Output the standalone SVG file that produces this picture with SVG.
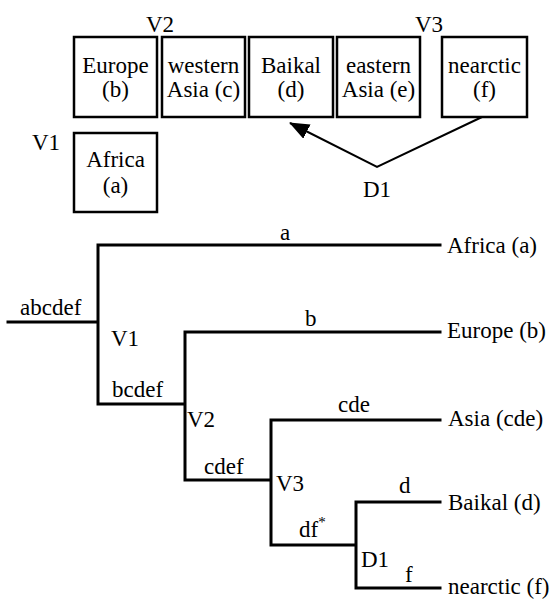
<svg xmlns="http://www.w3.org/2000/svg" width="554" height="600" viewBox="0 0 554 600">
<style>
text{font-family:"Liberation Serif","Times New Roman",serif;font-size:23px;fill:#000}
.c{text-anchor:middle}
.box{fill:#fff;stroke:#000;stroke-width:2.5}
.br{fill:none;stroke:#000;stroke-width:3;stroke-linecap:square}
.ar{fill:none;stroke:#000;stroke-width:2}
</style>
<defs>
<marker id="ah2" viewBox="0 0 20 16" refX="19" refY="8" markerWidth="20" markerHeight="16" orient="auto" markerUnits="userSpaceOnUse">
<path d="M0,0 L20,8 L0,16 z" fill="#000"/>
</marker>
</defs>
<rect width="554" height="600" fill="#fff"/>
<g id="area-europe"><rect class="box" x="74" y="37" width="83" height="80"/><text class="c" x="115.5" y="73">Europe</text><text class="c" x="115.5" y="97">(b)</text></g>
<g id="area-westasia"><rect class="box" x="162" y="37" width="83" height="80"/><text class="c" x="203.5" y="73">western</text><text class="c" x="203.5" y="97">Asia (c)</text></g>
<g id="area-baikal"><rect class="box" x="249" y="37" width="84" height="80"/><text class="c" x="291" y="73">Baikal</text><text class="c" x="291" y="97">(d)</text></g>
<g id="area-eastasia"><rect class="box" x="337" y="37" width="83" height="80"/><text class="c" x="378.5" y="73">eastern</text><text class="c" x="378.5" y="97">Asia (e)</text></g>
<g id="area-nearctic"><rect class="box" x="442" y="37" width="85" height="80"/><text class="c" x="484.5" y="73">nearctic</text><text class="c" x="484.5" y="97">(f)</text></g>
<g id="area-africa"><rect class="box" x="74" y="133" width="83" height="79"/><text class="c" x="115.5" y="167">Africa</text><text class="c" x="115.5" y="193">(a)</text></g>
<g id="map-labels"><text x="146" y="32">V2</text><text x="415" y="32">V3</text><text x="32" y="150">V1</text><text x="363" y="197">D1</text></g>
<g id="connectors">
<path class="ar" d="M482,117 L377,167 L290,123" marker-end="url(#ah2)"/>
<path class="br" d="M8,322 H98 M98,245 V404 M98,245 H440 M98,404 H185 M185,332 V480 M185,332 H440 M185,480 H271 M271,420 V545 M271,420 H440 M271,545 H356 M356,502 V588 M356,502 H440 M356,588 H440"/>
</g>
<g id="tree-labels">
<text x="20" y="315">abcdef</text>
<text x="111" y="346">V1</text>
<text x="112" y="397">bcdef</text>
<text x="280" y="240">a</text>
<text x="305" y="326">b</text>
<text x="187" y="427">V2</text>
<text x="204" y="474">cdef</text>
<text x="338" y="412">cde</text>
<text x="276" y="491">V3</text>
<text x="299" y="537">df<tspan font-size="15" dy="-10">*</tspan></text>
<text x="399" y="493">d</text>
<text x="361" y="567">D1</text>
<text x="405" y="582">f</text>
</g>
<g id="leaves">
<text x="447" y="253">Africa (a)</text>
<text x="447" y="338">Europe (b)</text>
<text x="448" y="426">Asia (cde)</text>
<text x="448" y="510">Baikal (d)</text>
<text x="448" y="594">nearctic (f)</text>
</g>
</svg>
